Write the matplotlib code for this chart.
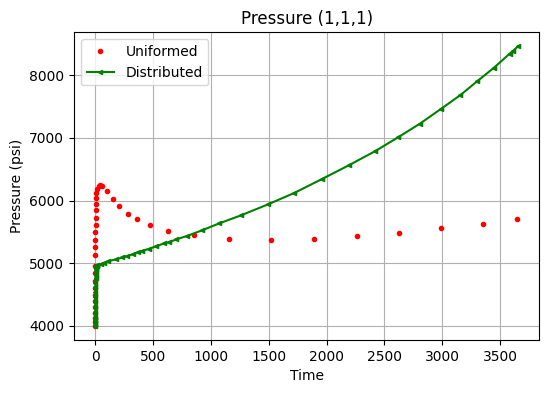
import matplotlib

matplotlib.use("Agg")
import matplotlib.pyplot as plt

# Uniformed: waktu dan tekanan
t_uni = [0, 0.03, 0.07, 0.12, 0.18, 0.25, 0.35, 0.45, 0.6, 0.8,
         1.0, 1.3, 1.7, 2.2, 2.8, 3.5, 4.3, 5.3, 6.5, 8,
         11, 20, 29, 40, 58, 101, 150, 210, 288, 366,
         478, 631, 858, 1161, 1524, 1893, 2260, 2622, 2985, 3356, 3650]
p_uni = [4000, 4060, 4130, 4210, 4300, 4400, 4500, 4610, 4720, 4840,
         4960, 5131, 5254, 5370, 5493, 5610, 5726, 5844, 5939, 6035,
         6125, 6178, 6231, 6247, 6237, 6147, 6019, 5907, 5785, 5700,
         5605, 5509, 5445, 5382, 5366, 5382, 5430, 5477, 5557, 5621, 5700]

# Distributed
t_dist = [0, 0.05, 0.1, 0.2, 0.3, 0.5, 0.7, 1.0, 1.4, 1.9,
          2.5, 3.2, 4.0, 5.0, 6.2, 7.6, 9.2, 11, 13, 15.5,
          20, 49, 78, 115, 178, 236, 279, 328, 372, 409,
          467, 524, 596, 640, 703, 798, 922, 1072, 1259, 1492,
          1723, 1959, 2195, 2420, 2616, 2809, 2985, 3155, 3302, 3449,
          3584, 3610, 3656]
p_dist = [4000, 4040, 4090, 4150, 4220, 4300, 4380, 4460, 4540, 4620,
          4690, 4760, 4820, 4870, 4910, 4935, 4950, 4958, 4964, 4968,
          4972, 4986, 5009, 5036, 5062, 5094, 5116, 5147, 5179, 5200,
          5232, 5270, 5318, 5339, 5382, 5439, 5525, 5637, 5764, 5939,
          6124, 6343, 6566, 6789, 7007, 7230, 7458, 7681, 7904, 8123,
          8346, 8387, 8462]

fig = plt.figure(figsize=(5.49, 3.93), dpi=100)
ax = fig.add_axes([0.1348, 0.1349, 0.8475, 0.7829])
ax.plot(t_uni, p_uni, "r.", label="Uniformed")
ax.plot(t_dist, p_dist, "g<-", markersize=3, label="Distributed")
ax.set_title("Pressure (1,1,1)")
ax.set_xlabel("Time")
ax.set_ylabel("Pressure (psi)")
ax.grid(True)
ax.legend(loc="upper left")
fig.savefig("out.png", dpi=100)
